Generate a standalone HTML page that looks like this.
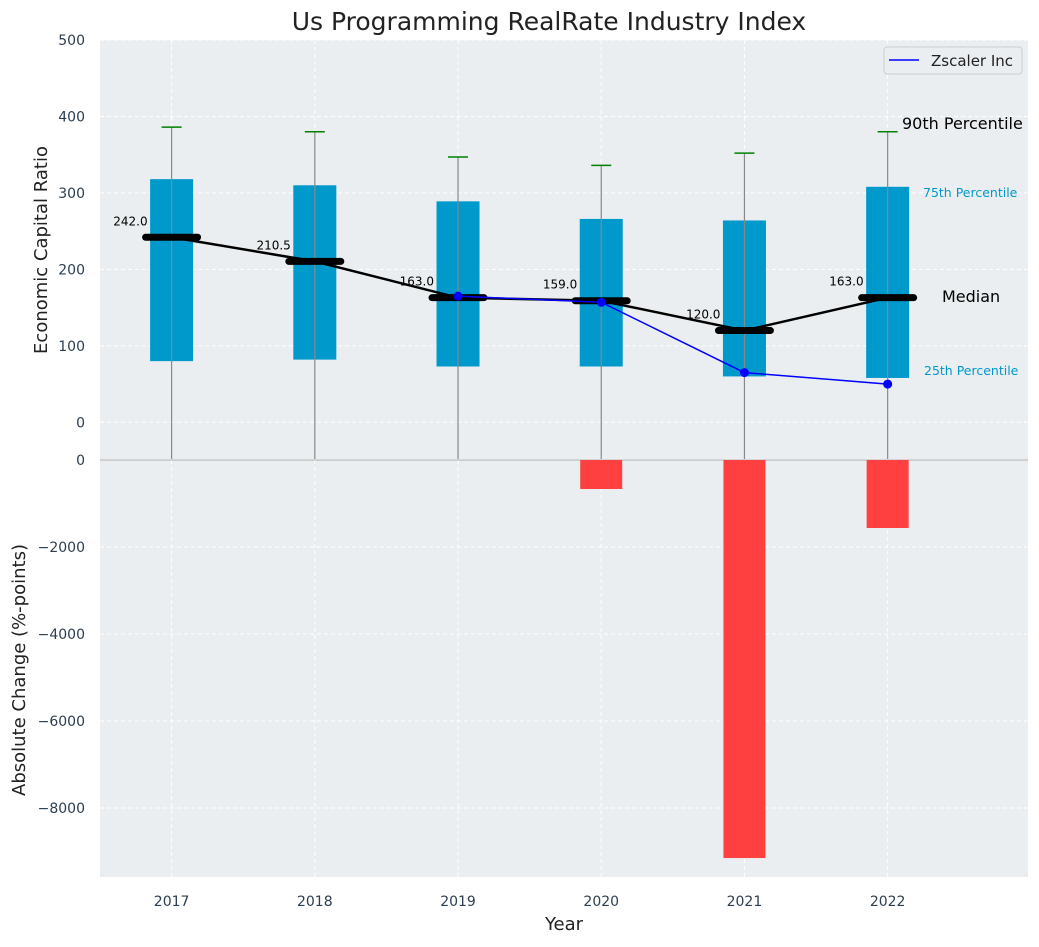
<!DOCTYPE html>
<html><head><meta charset="utf-8"><style>
body{margin:0;background:#fff;}
svg{font-family:"DejaVu Sans","Liberation Sans",sans-serif;}
</style></head><body>
<svg id="chart" width="1039" height="942" xmlns="http://www.w3.org/2000/svg"></svg>
<script>
const years = [2017, 2018, 2019, 2020, 2021, 2022];
const p25 = [80, 82, 73, 73, 60, 58];
const p75 = [318, 310, 289, 266, 264, 308];
const p90 = [386, 380, 347, 336, 352, 380];
const medians = [242, 210.5, 163, 159, 120, 163];
const zsYears = [2019, 2020, 2021, 2022];
const zsValues = [165, 157, 65, 50];
const changeYears = [2020, 2021, 2022];
const changeValues = [-667, -9150, -1563];
const topTicks = [0, 100, 200, 300, 400, 500];
const botTicks = [0, -2000, -4000, -6000, -8000];

const NS = "http://www.w3.org/2000/svg";
const svg = document.getElementById('chart');
function mk(tag, attrs, parent) {
  const e = document.createElementNS(NS, tag);
  for (const k in attrs) e.setAttribute(k, attrs[k]);
  (parent || svg).appendChild(e);
  return e;
}
const L = 100, R = 1028;
const x = v => L + (v - 2016.5) / (2022.98 - 2016.5) * (R - L);
const T0 = 40, T1 = 459;
const yT = v => T1 - (v - (-48)) / (500 - (-48)) * (T1 - T0);
const B0 = 460, B1 = 877;
const yB = v => B0 + (0 - v) / 9586 * (B1 - B0);

let e = mk('rect', {x: L, y: T0, width: R - L, height: T1 - T0, fill: '#eaeef0'});


e = mk('rect', {x: L, y: B0, width: R - L, height: B1 - B0, fill: '#eaeef0'});



years.forEach(yv => {
  mk('line', {x1: x(yv), x2: x(yv), y1: T0, y2: T1, stroke: '#fff', 'stroke-dasharray': '4,3', 'stroke-width': 1});
  mk('line', {x1: x(yv), x2: x(yv), y1: B0, y2: B1, stroke: '#fff', 'stroke-dasharray': '4,3', 'stroke-width': 1});
});
topTicks.forEach(t => {
  mk('line', {x1: L, x2: R, y1: yT(t), y2: yT(t), stroke: '#fff', 'stroke-dasharray': '4,3'});
  const tx = mk('text', {x: 85, y: yT(t) + 5, 'text-anchor': 'end', 'font-size': 14, fill: '#2c3e50'});
  tx.textContent = t;
  
  
});
botTicks.forEach(t => {
  mk('line', {x1: L, x2: R, y1: yB(t), y2: yB(t), stroke: '#fff', 'stroke-dasharray': '4,3'});
  const tx = mk('text', {x: 85, y: yB(t) + 5, 'text-anchor': 'end', 'font-size': 14, fill: '#2c3e50'});
  tx.textContent = t < 0 ? '\u2212' + Math.abs(t) : t;
  
  
});
mk('line', {x1: L, x2: R, y1: B0, y2: B0, stroke: '#aaa', 'stroke-width': 1});

years.forEach((yv, i) => {
  const cx = x(yv), w = 43;
  const b = mk('rect', {x: cx - w / 2, y: yT(p75[i]), width: w, height: yT(p25[i]) - yT(p75[i]), fill: '#0099cc'});
  
  
  const wl = mk('line', {x1: cx, x2: cx, y1: yT(p90[i]), y2: T1, stroke: '#888', 'stroke-width': 1.2});
  
  
  const cap = mk('line', {x1: cx - 10, x2: cx + 10, y1: yT(p90[i]), y2: yT(p90[i]), stroke: 'green', 'stroke-width': 1.5});
  
  
});

let pts = years.map((yv, i) => x(yv) + ',' + yT(medians[i])).join(' ');
e = mk('polyline', {points: pts, fill: 'none', stroke: '#000', 'stroke-width': 2.5});


years.forEach((yv, i) => {
  const cx = x(yv), cy = yT(medians[i]);
  const m = mk('line', {x1: cx - 26, x2: cx + 26, y1: cy, y2: cy, stroke: '#000', 'stroke-width': 7, 'stroke-linecap': 'round'});
  
  
  const t = mk('text', {x: cx - 24, y: cy - 12, 'text-anchor': 'end', 'font-size': 12, fill: '#000'});
  t.textContent = medians[i].toFixed(1);
  
  
});

pts = zsYears.map((yv, i) => x(yv) + ',' + yT(zsValues[i])).join(' ');
e = mk('polyline', {points: pts, fill: 'none', stroke: '#0000ff', 'stroke-width': 1.5});


zsYears.forEach((yv, i) => {
  const c = mk('circle', {cx: x(yv), cy: yT(zsValues[i]), r: 4.5, fill: '#0000ff'});
  
  
});

changeYears.forEach((yv, i) => {
  const r = mk('rect', {x: x(yv) - 21, y: B0, width: 42, height: yB(changeValues[i]) - B0, fill: '#ff4040'});
  
  
});

years.forEach(yv => {
  const t = mk('text', {x: x(yv), y: 906, 'text-anchor': 'middle', 'font-size': 14, fill: '#2c3e50'});
  t.textContent = yv;
  
  
});

function txt(s, a, name) { const t = mk('text', a); t.textContent = s;   return t; }
txt('90th Percentile', {x: 902, y: 129, 'font-size': 16, fill: '#000'}, 'p90-annotation');
txt('75th Percentile', {x: 923, y: 197, 'font-size': 12.5, fill: '#0099cc'}, 'p75-annotation');
txt('Median', {x: 942, y: 302, 'font-size': 16, fill: '#000'}, 'median-annotation');
txt('25th Percentile', {x: 924, y: 375, 'font-size': 12.5, fill: '#0099cc'}, 'p25-annotation');

txt('Us Programming RealRate Industry Index', {x: 549, y: 30, 'text-anchor': 'middle', 'font-size': 25, fill: '#222'}, 'chart-title');
txt('Year', {x: 564, y: 930, 'text-anchor': 'middle', 'font-size': 18, fill: '#222'}, 'x-axis-title');
txt('Economic Capital Ratio', {x: 0, y: 0, 'text-anchor': 'middle', 'font-size': 18, fill: '#222', transform: 'translate(47,250) rotate(-90)'}, 'y-axis-title');
txt('Absolute Change (%-points)', {x: 0, y: 0, 'text-anchor': 'middle', 'font-size': 18, fill: '#222', transform: 'translate(25,670) rotate(-90)'}, 'y2-axis-title');

const lg = mk('g', {});


mk('rect', {x: 884, y: 47, width: 138, height: 27, rx: 3, fill: '#eaeef0', stroke: '#ccc'}, lg);
mk('line', {x1: 889, x2: 919, y1: 60, y2: 60, stroke: '#0000ff', 'stroke-width': 1.5}, lg);
const lt = mk('text', {x: 931, y: 66, 'font-size': 15, fill: '#222'}, lg);
lt.textContent = 'Zscaler Inc';


</script>
</body></html>
